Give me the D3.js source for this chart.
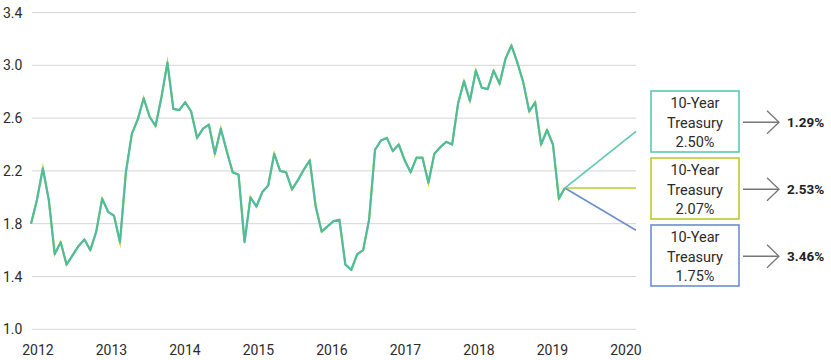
<!DOCTYPE html>
<html>
<head>
<meta charset="utf-8">
<script src="https://cdn.jsdelivr.net/npm/d3@7"></script>
<style>
  html, body { margin: 0; padding: 0; background: #fff; }
  svg { display: block; font-family: Roboto, "Open Sans", sans-serif; }
</style>
</head>
<body>
<svg id="chart" width="831" height="360"></svg>
<script>
// Monthly 10-year Treasury yield, Jan 2012 .. Jul 2019
const yields = [
  1.80, 1.98, 2.22, 1.98, 1.57, 1.66, 1.49, 1.56, 1.63, 1.68, 1.60, 1.74,
  1.99, 1.89, 1.86, 1.66, 2.19, 2.48, 2.59, 2.75, 2.61, 2.54, 2.76, 3.02,
  2.67, 2.66, 2.72, 2.65, 2.45, 2.52, 2.55, 2.33, 2.52, 2.35, 2.19, 2.17,
  1.66, 2.00, 1.93, 2.04, 2.09, 2.33, 2.20, 2.19, 2.06, 2.13, 2.21, 2.28,
  1.93, 1.74, 1.78, 1.82, 1.83, 1.49, 1.45, 1.57, 1.60, 1.83, 2.36, 2.43,
  2.45, 2.35, 2.40, 2.28, 2.19, 2.30, 2.30, 2.11, 2.33, 2.38, 2.42, 2.40,
  2.71, 2.88, 2.73, 2.96, 2.83, 2.82, 2.96, 2.86, 3.05, 3.15, 3.02, 2.87,
  2.65, 2.72, 2.40, 2.51, 2.40, 1.99, 2.07
];
const yearLabels = ["2012","2013","2014","2015","2016","2017","2018","2019","2020"];
const yTicks = [1.0, 1.4, 1.8, 2.2, 2.6, 3.0, 3.4];
// Scenarios: projected yield one year out, and the resulting figure
const scenarioNames = ["10-Year", "10-Year", "10-Year"];
const scenarioYields = [2.50, 2.07, 1.75];
const scenarioReturns = ["1.29%", "2.53%", "3.46%"];
const scenarioColors = ["#5cc8b4", "#b9cc2c", "#6d8ec9"];
const projectionMonths = 12;

const svg = d3.select("#chart");
const lastIdx = yields.length - 1;
const x = d3.scaleLinear().domain([0, lastIdx + projectionMonths]).range([31, 636]);
const y = d3.scaleLinear().domain([1.0, 3.4]).range([329.3, 12.5]);
const xYear = d3.scalePoint().domain(yearLabels).range([38, 626]);

// grid
svg.append("g").selectAll("line").data(yTicks).join("line")
  .attr("x1", 32).attr("x2", 636)
  .attr("y1", d => y(d)).attr("y2", d => y(d))
  .attr("stroke", "#d4d4d4").attr("stroke-width", 1);

// y labels
svg.append("g").selectAll("text").data(yTicks).join("text")
  .attr("x", 3).attr("y", d => y(d) + 5)
  .attr("font-size", 14).attr("fill", "#2b2b2b")
  .text(d => d3.format(".1f")(d));

// x labels
svg.append("g").selectAll("text").data(yearLabels).join("text")
  .attr("x", d => xYear(d)).attr("y", 355)
  .attr("text-anchor", "middle")
  .attr("font-size", 14).attr("fill", "#2b2b2b")
  .text(d => d);

// projections
const last = yields[lastIdx];
svg.append("g").selectAll("line").data(scenarioYields).join("line")
  .attr("x1", x(lastIdx)).attr("y1", y(last))
  .attr("x2", x(lastIdx + projectionMonths)).attr("y2", d => y(d))
  .attr("stroke", (d, i) => scenarioColors[i]).attr("stroke-width", 1.6);

// history lines
const line = d3.line().x((d, i) => x(i)).y(d => y(d));
svg.append("path").datum(yields).attr("d", line)
  .attr("fill", "none").attr("stroke", "#c3d12a").attr("stroke-width", 2)
  .attr("stroke-linejoin", "miter").attr("stroke-miterlimit", 8);
svg.append("path").datum(yields).attr("d", line)
  .attr("fill", "none").attr("stroke", "#4fbba0").attr("stroke-width", 2.2)
  .attr("stroke-linejoin", "round");

// legend boxes
const boxX = 651, boxW = 88, boxH = 61, boxTop = 91, boxStep = 67;
const g = svg.append("g").selectAll("g").data(scenarioYields).join("g")
  .attr("transform", (d, i) => `translate(0,${boxTop + i * boxStep})`);
g.append("rect").attr("x", boxX).attr("y", 0).attr("width", boxW).attr("height", boxH)
  .attr("fill", "#fff").attr("stroke", (d, i) => scenarioColors[i]).attr("stroke-width", 1.6);
const t = g.append("text").attr("text-anchor", "middle").attr("font-size", 14.5).attr("fill", "#2b2b2b");
t.append("tspan").attr("x", boxX + boxW / 2).attr("y", 17).text((d, i) => scenarioNames[i]);
t.append("tspan").attr("x", boxX + boxW / 2).attr("y", 36.5).text("Treasury");
t.append("tspan").attr("x", boxX + boxW / 2).attr("y", 56).text(d => d3.format(".2f")(d) + "%");

// arrows
const cy = boxH / 2 + 0.8;
g.append("line").attr("x1", 743).attr("x2", 779).attr("y1", cy).attr("y2", cy)
  .attr("stroke", "#777").attr("stroke-width", 1.5);
g.append("path").attr("d", `M767,${cy - 11.5}L779,${cy}L767,${cy + 11.5}`)
  .attr("fill", "none").attr("stroke", "#777").attr("stroke-width", 1.3);
g.append("text").attr("x", 787).attr("y", cy + 4.5)
  .attr("font-size", 13.5).attr("font-weight", "bold").attr("fill", "#222")
  .text((d, i) => scenarioReturns[i]);
</script>
</body>
</html>
